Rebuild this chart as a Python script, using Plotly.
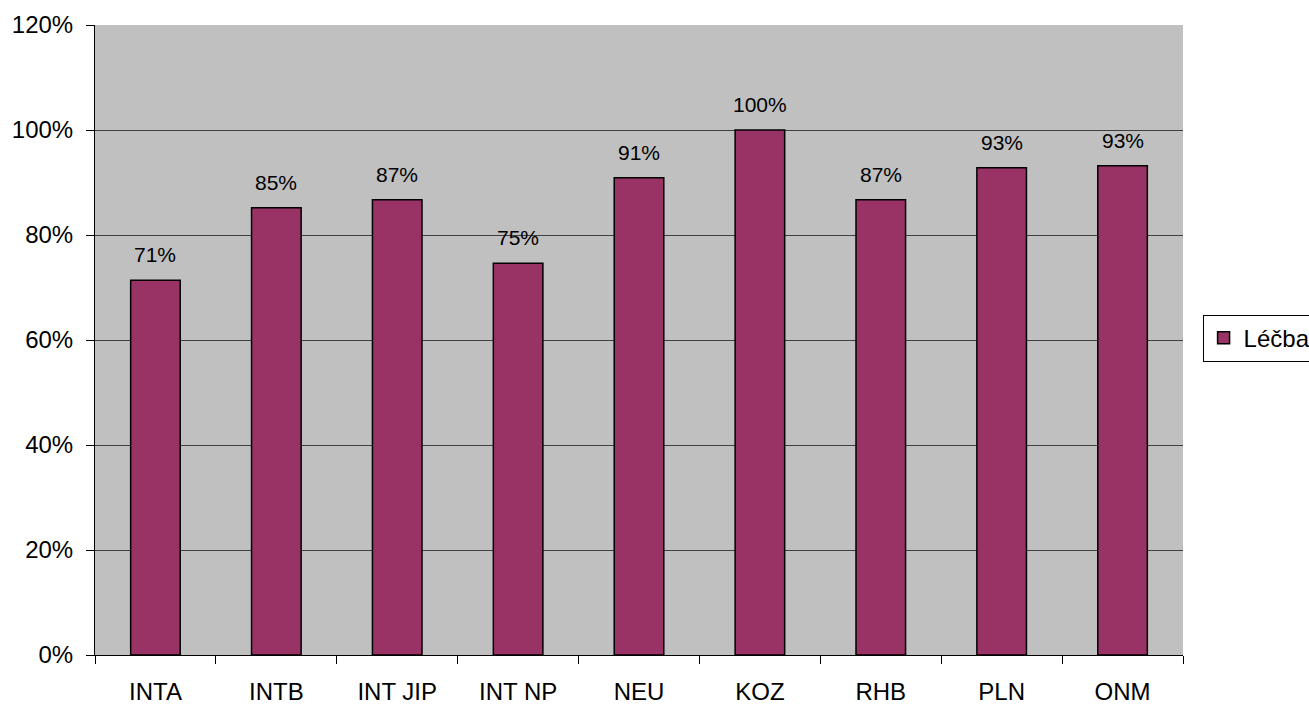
import plotly.graph_objects as go

categories = ["INTA", "INTB", "INT JIP", "INT NP", "NEU", "KOZ", "RHB", "PLN", "ONM"]
values = [0.714, 0.852, 0.867, 0.746, 0.909, 1.0, 0.867, 0.928, 0.932]
tick_vals = [0, 0.2, 0.4, 0.6, 0.8, 1.0, 1.2]
tick_text = ["0%", "20%", "40%", "60%", "80%", "100%", "120%"]
series_name = "Léčba"

FONT = "Liberation Sans, Arial"

fig = go.Figure()
fig.add_trace(go.Bar(
    x=categories, y=values, name=series_name,
    marker=dict(color="#993366", line=dict(color="black", width=1.5)),
    width=0.41,
))
for c, v in zip(categories, values):
    fig.add_annotation(x=c, y=v, text=f"{v:.0%}", showarrow=False,
                       yanchor="bottom", yshift=12,
                       font=dict(family=FONT, size=21, color="black"))

fig.update_layout(
    width=1309, height=706, autosize=False,
    margin=dict(l=95, r=126, t=25, b=51, autoexpand=False),
    paper_bgcolor="white", plot_bgcolor="#C0C0C0",
    font=dict(family=FONT, size=24, color="black"),
    showlegend=True,
    legend=dict(x=1.018, y=0.503, xanchor="left", yanchor="middle",
                bordercolor="black", borderwidth=1, bgcolor="white",
                font=dict(size=24), itemwidth=30),
    xaxis=dict(showgrid=False, ticks="outside", tickson="boundaries",
               ticklen=8, tickcolor="black", showline=True, linecolor="black",
               linewidth=1, tickfont=dict(size=24), ticklabelstandoff=15,
               automargin=False),
    yaxis=dict(range=[0, 1.2], tickvals=tick_vals, ticktext=tick_text,
               showgrid=True, gridcolor="#404040", gridwidth=1,
               ticks="outside", ticklen=8, tickcolor="black",
               showline=True, linecolor="black", linewidth=1,
               zeroline=False, tickfont=dict(size=24), ticklabelstandoff=8,
               automargin=False),
)
fig.write_html("out.html", config={"displayModeBar": False},
               post_script="document.body.style.margin='0';document.body.style.overflow='hidden';")
